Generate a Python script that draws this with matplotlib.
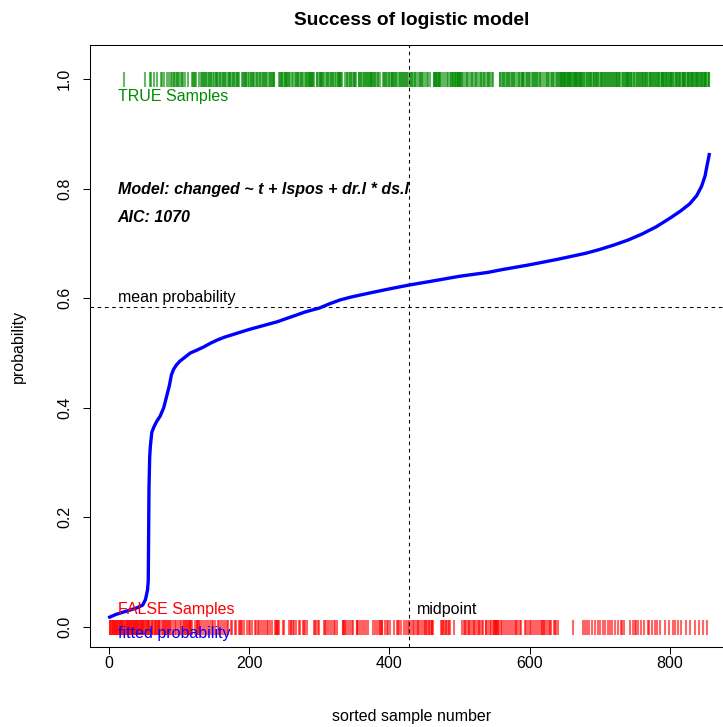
import matplotlib
matplotlib.use("Agg")
import matplotlib.pyplot as plt
import numpy as np

plt.rcParams['font.family'] = ['Liberation Sans', 'DejaVu Sans']
plt.rcParams['lines.scale_dashes'] = False

# ---- data ----
title = "Success of logistic model"
xlabel = "sorted sample number"
ylabel = "probability"
model_text = "Model: changed ~ t + lspos + dr.l * ds.l"
aic_text = "AIC: 1070"

# fitted probability (sorted) : knots
curve_x = [1, 10, 20, 30, 40, 48, 52, 55, 56, 57, 58, 59, 61, 64, 68, 73, 78, 82,
           86, 89, 92, 96, 101, 108, 116, 125, 135, 145, 155, 165, 180, 200, 220,
           240, 260, 280, 300, 315, 330, 345, 370, 400, 428, 460, 500, 540, 560,
           600, 640, 680, 700, 720, 740, 760, 780, 800, 815, 828, 838, 845, 850,
           853, 856]
curve_p = [0.018, 0.023, 0.027, 0.031, 0.035, 0.040, 0.050, 0.068, 0.085, 0.25,
           0.31, 0.33, 0.355, 0.365, 0.375, 0.385, 0.40, 0.42, 0.44, 0.46, 0.47,
           0.478, 0.485, 0.492, 0.500, 0.505, 0.511, 0.518, 0.524, 0.529, 0.535,
           0.543, 0.550, 0.557, 0.566, 0.575, 0.582, 0.590, 0.597, 0.602, 0.609,
           0.617, 0.624, 0.631, 0.640, 0.647, 0.652, 0.661, 0.671, 0.682, 0.689,
           0.697, 0.706, 0.717, 0.730, 0.746, 0.759, 0.772, 0.787, 0.804, 0.823,
           0.843, 0.862]

mean_prob = 0.584

# observed outcome of each sorted sample (1 = TRUE, 0 = FALSE), read from the rugs
outcome_rows = [
    "0000000000 0000000000 1000000000 0000000000 0000000000",
    "0100000101 0001000100 0001010100 0010010101 0110101101",
    "0101100100 0010000011 1011000100 1101101011 0110110101",
    "0111010110 1101011010 1110101110 0111010010 1011110101",
    "0110111010 1010110101 1101010110 1011110000 0101111010",
    "1111110100 1010101111 0101101010 1011111111 1010011010",
    "1111101010 1101011011 0101011111 1100001011 0110101011",
    "1100011011 0110101101 1111110101 1011010000 1101101011",
    "0111110110 1010110111 0101101010 1101011010 0110110101",
    "0010100100 0011111111 1101001010 0101001111 1011111111",
    "1110101001 1001011010 0110100101 1010110010 1101011000",
    "0000001101 0110101101 1010110110 0101101011 1101011010",
    "1011010110 1101101000 1010110101 0110101010 1111111111",
    "1111111111 1011111111 1111101101 1011011101 1101110110",
    "1110110111 0111011011 1011101110 1011011111 1101110110",
    "0111011101 1101111010 1110111011 0111101111 1101111011",
    "1110110111 0111101111 1101111101 1111011111 0111110111",
    "110111",
]

xticks = [0, 200, 400, 600, 800]
yticks = [0.0, 0.2, 0.4, 0.6, 0.8, 1.0]
ytick_labels = ["0.0", "0.2", "0.4", "0.6", "0.8", "1.0"]

# ---- derived ----
outcomes = np.array([int(c) for c in "".join(outcome_rows).replace(" ", "")])
n = len(outcomes)
idx = np.arange(1, n + 1)
true_x = idx[outcomes == 1]
false_x = idx[outcomes == 0]
midpoint = n / 2

# ---- figure ----
W, H = 723, 727
fig = plt.figure(figsize=(W / 100, H / 100), dpi=100)
ax = fig.add_axes([90 / W, 80 / H, 644 / W, 602 / H])
ax.set_xlim(-27.1, 891.3)
ax.set_ylim(-0.0365, 1.062)

fs = 11.5
green = '#008B00'

ax.plot(true_x, np.ones_like(true_x), linestyle='none', marker='|',
        markersize=10.8, markeredgewidth=1.5, color=green, alpha=0.6)
ax.plot(false_x, np.zeros_like(false_x), linestyle='none', marker='|',
        markersize=10.8, markeredgewidth=1.5, color='red', alpha=0.6)

ax.axhline(mean_prob, color='black', lw=0.75, linestyle=(0, (2.6, 2.6)))
ax.axvline(midpoint, color='black', lw=0.75, linestyle=(0, (2.6, 2.6)))

ax.plot(curve_x, curve_p, color='blue', lw=2.4, solid_joinstyle='round')

def label(txt, x, y, color='black', **kw):
    ax.annotate(txt, xy=(x, y), xytext=(5.8, -4.1), textcoords='offset points',
                ha='left', va='baseline', fontsize=fs, color=color, **kw)

label("TRUE Samples", 1, 0.97, color=green)
label("FALSE Samples", 1, 0.035, color='red')
label("fitted probability", 1, -0.01, color='blue')
label("mean probability", 1, mean_prob + 0.02)
label("midpoint", midpoint, 0.035)
label(model_text, 1, 0.80, fontweight='bold', fontstyle='italic')
label(aic_text, 1, 0.75, fontweight='bold', fontstyle='italic')

ax.set_xticks(xticks)
ax.set_xticklabels([str(t) for t in xticks])
ax.set_yticks(yticks)
ax.set_yticklabels(ytick_labels, rotation=90, va='center')
ax.tick_params(axis='both', direction='out', length=5, width=0.75,
               labelsize=fs, color='black')
ax.tick_params(axis='x', pad=1.5)
ax.tick_params(axis='y', pad=8)
for s in ax.spines.values():
    s.set_linewidth(0.75)

ax.set_xlabel(xlabel, fontsize=fs)
ax.xaxis.set_label_coords(0.5, (647 - 717) / 602)
ax.xaxis.label.set_va('center')
ax.set_ylabel(ylabel, fontsize=fs)
ax.yaxis.set_label_coords((18 - 90) / 644, 0.5)
ax.yaxis.label.set_va('center')
ax.set_title(title, fontsize=13.8, fontweight='bold', y=(647 - 25) / 602, pad=0)

fig.savefig("out.png", dpi=100)
